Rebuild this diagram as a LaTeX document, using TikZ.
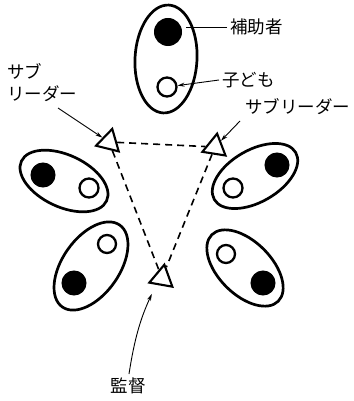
\documentclass[tikz,border=0pt]{standalone}
\usepackage{fontspec}
\newfontfamily\jp{Noto Sans CJK JP}
\usetikzlibrary{shapes.geometric,arrows.meta,calc}
\tikzset{
  grp/.style={draw, ellipse, line width=2.7pt, inner sep=0pt},
  adult/.style={circle, fill=black, draw=black, line width=1pt, inner sep=0pt},
  child/.style={circle, draw=black, line width=2.3pt, inner sep=0pt, fill=white},
  leader/.style={regular polygon, regular polygon sides=3, draw, line width=2.1pt, inner sep=0pt, minimum size=27pt},
  lab/.style={font=\jp\fontsize{17.5}{22}\selectfont, inner sep=0pt},
  arr/.style={line width=0.9pt, -{Stealth[length=7pt,width=4pt]}},
  dashline/.style={line width=1.6pt, dash pattern=on 7pt off 5pt}
}
\begin{document}
\begin{tikzpicture}[x=1pt,y=-1pt]
\useasboundingbox (0,0) rectangle (353,401);
% groups
\node[grp, minimum width=62pt, minimum height=108pt, rotate=-3] (gT) at (166,59) {};
\node[grp, minimum width=94pt, minimum height=52pt, rotate=-25] (gUL) at (64,181) {};
\node[grp, minimum width=94pt, minimum height=52pt, rotate=30] (gUR) at (255,176) {};
\node[grp, minimum width=100pt, minimum height=57pt, rotate=55] (gLL) at (91,266) {};
\node[grp, minimum width=94pt, minimum height=53pt, rotate=-45] (gLR) at (245,268) {};
% adults and children
\node[adult, minimum size=27pt] (tA) at (168,32) {};
\node[child, minimum size=19pt] (tC) at (167,87) {};
\node[adult, minimum size=24pt] (ulA) at (43,175) {};
\node[child, minimum size=19pt] (ulC) at (89,188) {};
\node[adult, minimum size=24pt] (urA) at (277,165) {};
\node[child, minimum size=19pt] (urC) at (233,188) {};
\node[child, minimum size=18pt] (llC) at (107,244) {};
\node[adult, minimum size=24pt] (llA) at (74,283) {};
\node[child, minimum size=18pt] (lrC) at (226,254) {};
\node[adult, minimum size=24pt] (lrA) at (263,283) {};
% leaders
\node[leader, rotate=-14] (lt) at (109,142) {};
\node[leader, rotate=-9] (rt) at (215,147) {};
\node[leader, rotate=-10] (bt) at (162,278) {};
\draw[dashline] (lt) -- (rt);
\draw[dashline] (lt) -- (bt);
\draw[dashline] (rt) -- (bt);
% labels
\node[lab, anchor=west] (hlab) at (230,27) {補助者};
\node[lab, anchor=west] (klab) at (222,80) {子ども};
\node[lab, anchor=west, align=left] (sl) at (7,83) {サブ\\リーダー};
\node[lab, anchor=west] (sr) at (245,107) {サブリーダー};
\node[lab] (kt) at (128,386) {監督};
% connectors
\draw[line width=0.9pt] ([xshift=-3pt]hlab.west) -- ($(tA.east |- hlab.west)+(4,0)$);
\draw[arr] ([xshift=-3pt]klab.west) -- (tC);
\coordinate (slS) at (58,108);
\draw[arr] (slS) -- (lt);
\coordinate (srS) at (240,121);
\draw[arr] (srS) -- (rt);
\coordinate (ktS) at (129,374);
\draw[arr, shorten >=9pt] (ktS) to[bend left=8] ([xshift=-5pt]bt.south);
\end{tikzpicture}
\end{document}
